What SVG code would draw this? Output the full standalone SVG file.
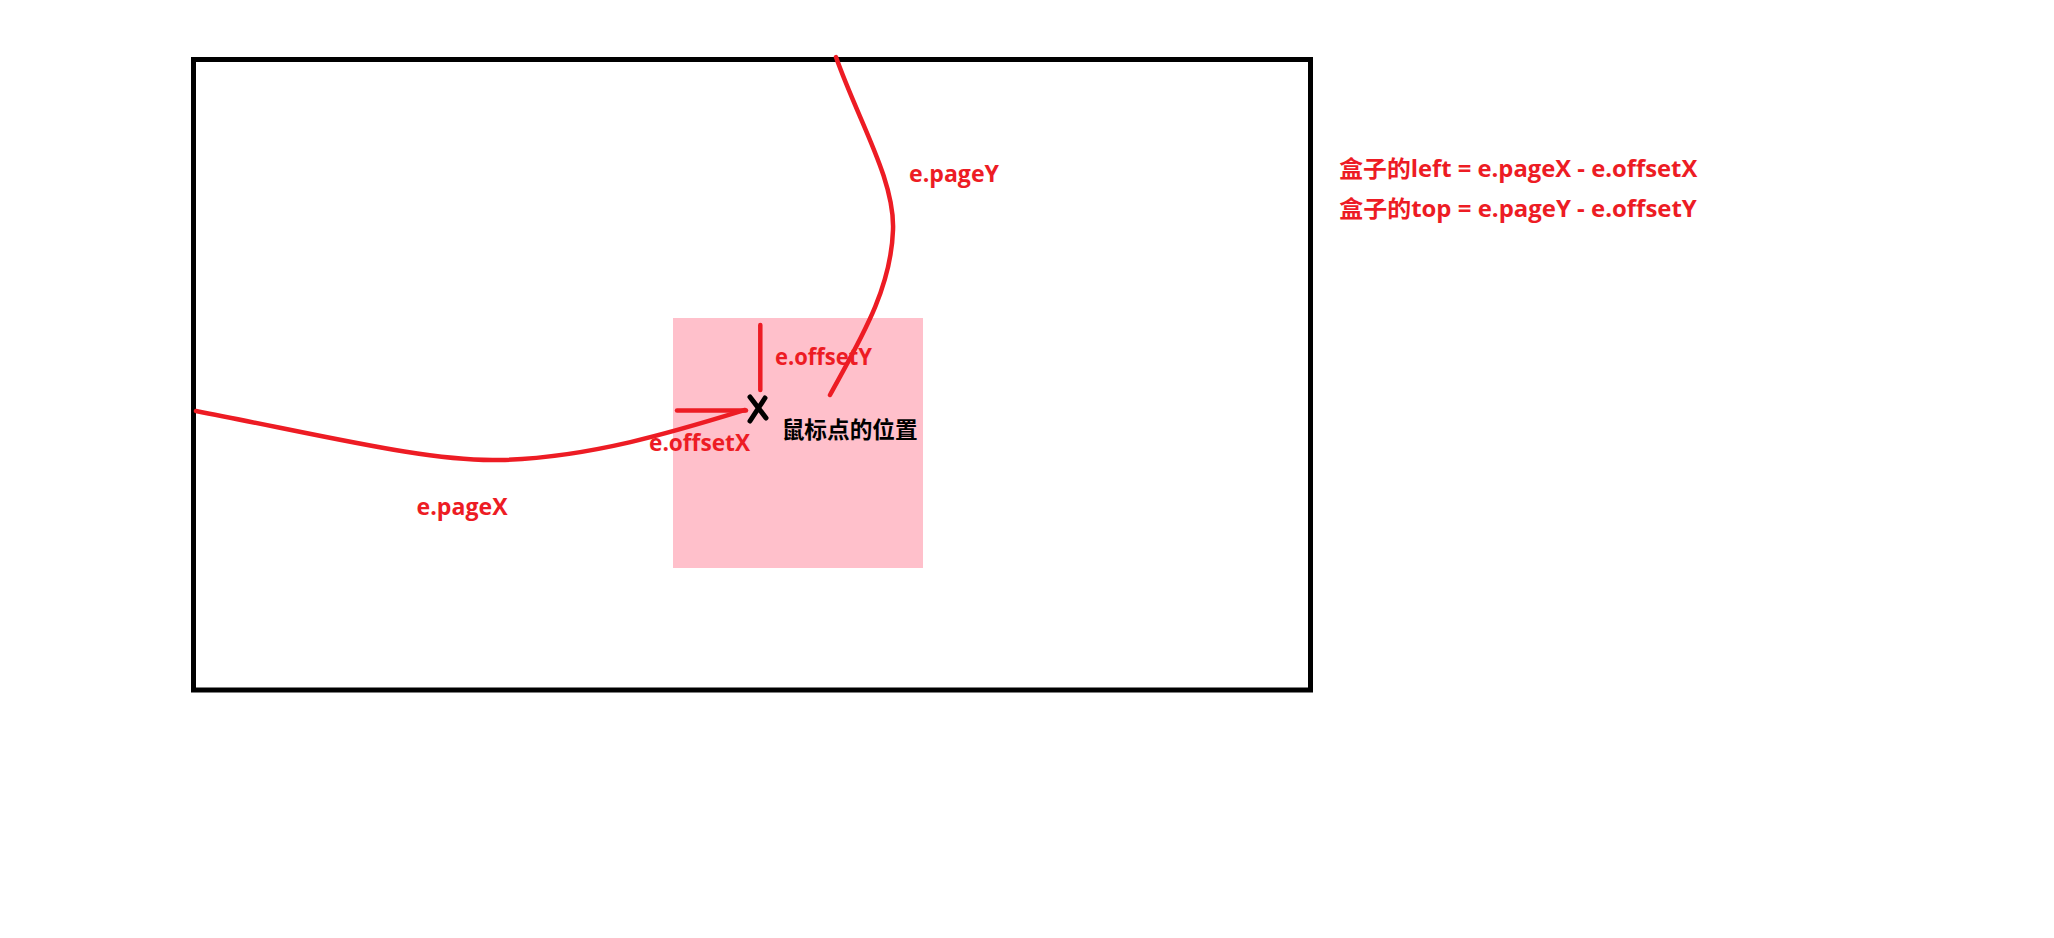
<svg xmlns="http://www.w3.org/2000/svg" width="2054" height="938" viewBox="0 0 2054 938">
<style>
.red{fill:#ED1C24;font-family:"Open Sans","Noto Sans CJK SC",sans-serif;font-weight:bold;font-size:23px}
.blk{fill:#000;font-family:"Noto Sans CJK SC",sans-serif;font-weight:bold;font-size:23px}
.ln{fill:none;stroke:#ED1C24;stroke-width:4.5;stroke-linecap:round;stroke-linejoin:round}
</style>
<rect width="2054" height="938" fill="#fff"/>
<g id="page">
<rect x="193.5" y="59.5" width="1117" height="630.5" fill="#fff" stroke="#000" stroke-width="5"/>
</g>
<g id="box">
<rect x="673" y="318" width="250" height="250" fill="#FFC0CB"/>
</g>
<g id="connectors">
<path class="ln" d="M196,411 C330,437 430,462 500,460 C590,458 680,430 745,410"/>
<path class="ln" d="M836,57 C858,120 895,180 893,230 C891,290 860,340 830,395"/>
<line class="ln" x1="677" y1="410.5" x2="746" y2="410.5"/>
<line class="ln" x1="760.3" y1="325" x2="760.3" y2="390"/>
</g>
<g id="mouse">
<path d="M750,397 L766,418 M765,398 L750,421" stroke="#000" stroke-width="5" stroke-linecap="round" fill="none"/>
<text class="blk" x="781.7" y="438" textLength="136" lengthAdjust="spacingAndGlyphs">鼠标点的位置</text>
</g>
<g id="labels">
<text class="red" x="909" y="182" textLength="90" lengthAdjust="spacingAndGlyphs">e.pageY</text>
<text class="red" x="775" y="364.5" textLength="97" lengthAdjust="spacingAndGlyphs">e.offsetY</text>
<text class="red" x="649" y="451" textLength="101" lengthAdjust="spacingAndGlyphs">e.offsetX</text>
<text class="red" x="416.6" y="515" textLength="91" lengthAdjust="spacingAndGlyphs">e.pageX</text>
</g>
<g id="formulas">
<text class="red" x="1339.3" y="177" textLength="358" lengthAdjust="spacingAndGlyphs">盒子的left = e.pageX - e.offsetX</text>
<text class="red" x="1339.3" y="217" textLength="357.5" lengthAdjust="spacingAndGlyphs">盒子的top = e.pageY - e.offsetY</text>
</g>
</svg>
